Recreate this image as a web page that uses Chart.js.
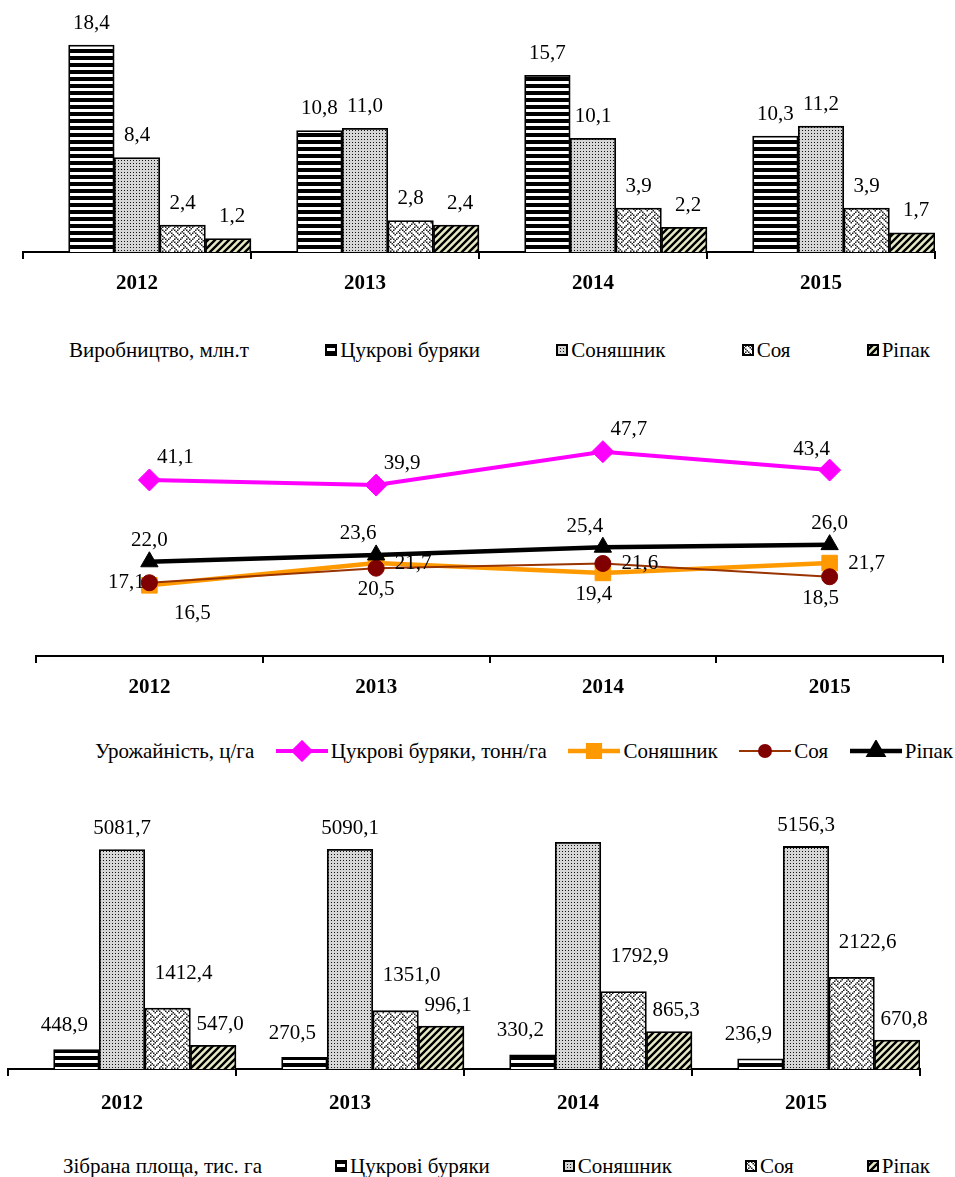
<!DOCTYPE html>
<html lang="uk">
<head>
<meta charset="utf-8">
<title>Виробництво, урожайність і зібрана площа</title>
<script src="https://cdn.jsdelivr.net/npm/chart.js@4.4.1/dist/chart.umd.min.js"></script>
<style>
  body { margin: 0; background: #fff; }
  #page { position: relative; width: 955px; height: 1177px; font-family: "Liberation Serif", "Times New Roman", serif; }
  #page > canvas { position: absolute; left: 0; }
  .legend { position: absolute; display: flex; justify-content: space-between; align-items: center;
            font-family: "Liberation Serif", serif; font-size: 21px; line-height: 24px; color: #000; white-space: nowrap; }
  .legend .item { display: flex; align-items: center; }
  .legend canvas { display: block; margin-right: 3px; }
</style>
</head>
<body>
<div id="page">
  <canvas id="prod" width="955" height="300" style="top:0"></canvas>
  <div id="legProd" class="legend" style="left:69px; right:25px; top:338px"></div>
  <canvas id="yield" width="955" height="324" style="top:380px"></canvas>
  <div id="legYield" class="legend" style="left:95px; right:2px; top:739px"></div>
  <canvas id="area" width="955" height="327" style="top:790px"></canvas>
  <div id="legArea" class="legend" style="left:63px; right:25px; top:1154px"></div>
</div>
<script>
const years = ['2012', '2013', '2014', '2015'];

// Виробництво, млн.т
const prodBeet = [18.4, 10.8, 15.7, 10.3];
const prodSunflower = [8.4, 11.0, 10.1, 11.2];
const prodSoy = [2.4, 2.8, 3.9, 3.9];
const prodRapeseed = [1.2, 2.4, 2.2, 1.7];

// Урожайність, ц/га (буряки - тонн/га)
const yieldBeet = [41.1, 39.9, 47.7, 43.4];
const yieldSunflower = [16.5, 21.7, 19.4, 21.7];
const yieldSoy = [17.1, 20.5, 21.6, 18.5];
const yieldRapeseed = [22.0, 23.6, 25.4, 26.0];

// Зібрана площа, тис. га
const areaBeet = [448.9, 270.5, 330.2, 236.9];
const areaSunflower = [5081.7, 5090.1, 5250.0, 5156.3];
const areaSoy = [1412.4, 1351.0, 1792.9, 2122.6];
const areaRapeseed = [547.0, 996.1, 865.3, 670.8];

const empty = [null, null, null, null];
const FONT = '"Liberation Serif", "Times New Roman", serif';

// ---- pattern tiles ----
function tile(w, h, draw) {
  const c = document.createElement('canvas');
  c.width = w; c.height = h;
  draw(c.getContext('2d'), w, h);
  return c;
}
const tiles = {
  stripes: tile(4, 7, (g) => {
    g.fillStyle = '#fff'; g.fillRect(0, 0, 4, 7);
    g.fillStyle = '#000'; g.fillRect(0, 0, 4, 4);
  }),
  dots: tile(3, 3, (g) => {
    g.fillStyle = '#d6d6d6'; g.fillRect(0, 0, 3, 3);
    g.fillStyle = '#111'; g.fillRect(1, 1, 1, 1);
  }),
  weave: tile(12, 12, (g) => {
    const rows = [0x11, 0x2a, 0x44, 0xa2, 0x11, 0x28, 0x44, 0x8a];
    g.fillStyle = '#fff'; g.fillRect(0, 0, 12, 12);
    g.fillStyle = '#222';
    rows.forEach((r, y) => {
      for (let x = 0; x < 8; x++) {
        if (r & (0x80 >> x)) g.fillRect(x * 1.5, y * 1.5, 1.5, 1.5);
      }
    });
  }),
  diagonal: tile(7, 7, (g) => {
    g.fillStyle = '#e6eac6'; g.fillRect(0, 0, 7, 7);
    g.strokeStyle = '#000'; g.lineWidth = 2.4;
    g.beginPath();
    g.moveTo(-1, 8); g.lineTo(8, -1);
    g.moveTo(-2, 2); g.lineTo(2, -2);
    g.moveTo(5, 9); g.lineTo(9, 5);
    g.stroke();
  })
};
function patterns(canvasId) {
  const ctx = document.getElementById(canvasId).getContext('2d');
  const p = {};
  for (const k in tiles) p[k] = ctx.createPattern(tiles[k], 'repeat');
  return p;
}

// ---- value labels ----
const places = {
  above: [0, -21], aboveRight: [26, -22], aboveLeft: [-18, -21], below: [0, 21],
  belowRight: [43, 28], right: [37, 0], left: [-23, 0], belowLeft: [-9, 22]
};
const valueLabels = {
  id: 'valueLabels',
  afterDatasetsDraw(chart) {
    const ctx = chart.ctx;
    ctx.save();
    ctx.font = '21px ' + FONT;
    ctx.fillStyle = '#000';
    ctx.textAlign = 'center';
    ctx.textBaseline = 'middle';
    chart.data.datasets.forEach((ds, i) => {
      const meta = chart.getDatasetMeta(i);
      meta.data.forEach((el, j) => {
        const v = ds.data[j];
        if (v == null || (ds.hideLabelAt || []).includes(j)) return;
        const off = ds.labelPlace ? places[ds.labelPlace[j]] : (ds.labelShift || [0, -22]);
        ctx.fillText(v.toFixed(1).replace('.', ','), el.x + off[0], el.y + off[1]);
      });
    });
    ctx.restore();
  }
};

function xAxis(tickPad) {
  return {
    offset: true,
    grid: { offset: true, drawOnChartArea: false, drawTicks: true, tickLength: 7, color: '#000', lineWidth: 2 },
    border: { display: true, color: '#000', width: 2 },
    ticks: { color: '#000', padding: tickPad, font: { family: FONT, size: 21, weight: 'bold' } },
    afterFit: (s) => { s.height = 48; }
  };
}

function barChart(id, datasets, yMax, padding, tickPad) {
  return new Chart(document.getElementById(id), {
    type: 'bar',
    data: { labels: years, datasets },
    options: {
      responsive: false, animation: false, events: [],
      layout: { padding },
      datasets: { bar: { categoryPercentage: 1, barPercentage: 1, borderColor: '#000', borderWidth: 1.8, borderSkipped: 'start' } },
      scales: { x: xAxis(tickPad), y: { display: false, min: 0, max: yMax } },
      plugins: { legend: { display: false }, tooltip: { enabled: false } }
    },
    plugins: [valueLabels]
  });
}

// ---- Виробництво ----
const pp = patterns('prod');
const prodChart = barChart('prod', [
  { label: 'Виробництво, млн.т', data: empty, backgroundColor: 'rgba(0,0,0,0)', borderWidth: 0 },
  { label: 'Цукрові буряки', data: prodBeet, backgroundColor: pp.stripes, tile: 'stripes' },
  { label: 'Соняшник', data: prodSunflower, backgroundColor: pp.dots, tile: 'dots' },
  { label: 'Соя', data: prodSoy, backgroundColor: pp.weave, tile: 'weave' },
  { label: 'Ріпак', data: prodRapeseed, backgroundColor: pp.diagonal, tile: 'diagonal', labelShift: [4, -22] }
], 20, { top: 27, left: 23, right: 20, bottom: 0 }, 12);

// ---- Урожайність ----
const yieldChart = new Chart(document.getElementById('yield'), {
  type: 'line',
  data: {
    labels: years,
    datasets: [
      { label: 'Урожайність, ц/га', data: empty, borderWidth: 0, pointRadius: 0, order: 5 },
      { label: 'Цукрові буряки, тонн/га', data: yieldBeet, borderColor: '#ff00ff', borderWidth: 4,
        pointStyle: 'rectRot', pointRadius: 11, pointBackgroundColor: '#ff00ff', pointBorderColor: '#ff00ff',
        order: 4, labelPlace: ['aboveRight', 'aboveRight', 'aboveRight', 'aboveLeft'] },
      { label: 'Соняшник', data: yieldSunflower, borderColor: '#ff9900', borderWidth: 4.5,
        pointStyle: 'rect', pointRadius: 11, pointBackgroundColor: '#ff9900', pointBorderColor: '#ff9900',
        order: 3, labelPlace: ['belowRight', 'right', 'belowLeft', 'right'] },
      { label: 'Соя', data: yieldSoy, borderColor: '#993300', borderWidth: 2,
        pointStyle: 'circle', pointRadius: 8, pointBackgroundColor: '#800000', pointBorderColor: '#800000',
        order: 2, labelPlace: ['left', 'below', 'right', 'belowLeft'] },
      { label: 'Ріпак', data: yieldRapeseed, borderColor: '#000', borderWidth: 4.5,
        pointStyle: 'triangle', pointRadius: 10, pointBackgroundColor: '#000', pointBorderColor: '#000',
        order: 1, labelPlace: ['above', 'aboveLeft', 'aboveLeft', 'above'] }
    ]
  },
  options: {
    responsive: false, animation: false, events: [],
    layout: { padding: { top: 19, left: 36, right: 7, bottom: 0 } },
    elements: { line: { tension: 0 }, point: { pointBorderWidth: 1 } },
    scales: { x: xAxis(12), y: { display: false, min: 0, max: 60 } },
    plugins: { legend: { display: false }, tooltip: { enabled: false } }
  },
  plugins: [valueLabels]
});

// ---- Зібрана площа ----
const pa = patterns('area');
const areaChart = barChart('area', [
  { label: 'Зібрана площа, тис. га', data: empty, backgroundColor: 'rgba(0,0,0,0)', borderWidth: 0 },
  { label: 'Цукрові буряки', data: areaBeet, backgroundColor: pa.stripes, tile: 'stripes', labelShift: [-12, -24] },
  { label: 'Соняшник', data: areaSunflower, backgroundColor: pa.dots, tile: 'dots', labelShift: [0, -21], hideLabelAt: [2] },
  { label: 'Соя', data: areaSoy, backgroundColor: pa.weave, tile: 'weave', labelShift: [16, -35] },
  { label: 'Ріпак', data: areaRapeseed, backgroundColor: pa.diagonal, tile: 'diagonal', labelShift: [7, -21] }
], 6000, { top: 20, left: 8, right: 35, bottom: 0 }, 15);

// ---- HTML legends built from the chart datasets ----
function boxMarker(ds) {
  const c = document.createElement('canvas');
  c.width = 12; c.height = 12;
  const g = c.getContext('2d');
  g.fillStyle = g.createPattern(tiles[ds.tile], 'repeat');
  g.fillRect(0, 0, 12, 12);
  g.strokeStyle = '#000'; g.lineWidth = 2;
  g.strokeRect(1, 1, 10, 10);
  return c;
}
function lineMarker(ds) {
  const c = document.createElement('canvas');
  c.width = 52; c.height = 22;
  const g = c.getContext('2d');
  g.strokeStyle = ds.borderColor; g.lineWidth = ds.borderWidth;
  g.beginPath(); g.moveTo(0, 11); g.lineTo(52, 11); g.stroke();
  g.fillStyle = ds.pointBackgroundColor; g.strokeStyle = ds.pointBorderColor;
  Chart.helpers.drawPoint(g, { pointStyle: ds.pointStyle, radius: ds.pointRadius * 0.75, rotation: 0, borderWidth: 1 }, 26, 11);
  return c;
}
function buildLegend(chart, elId, marker) {
  const el = document.getElementById(elId);
  chart.data.datasets.forEach((ds, i) => {
    const item = document.createElement('span');
    item.className = 'item';
    if (i > 0) item.appendChild(marker(ds));
    item.appendChild(document.createTextNode(ds.label));
    el.appendChild(item);
  });
}
buildLegend(prodChart, 'legProd', boxMarker);
buildLegend(yieldChart, 'legYield', lineMarker);
buildLegend(areaChart, 'legArea', boxMarker);
</script>
</body>
</html>
